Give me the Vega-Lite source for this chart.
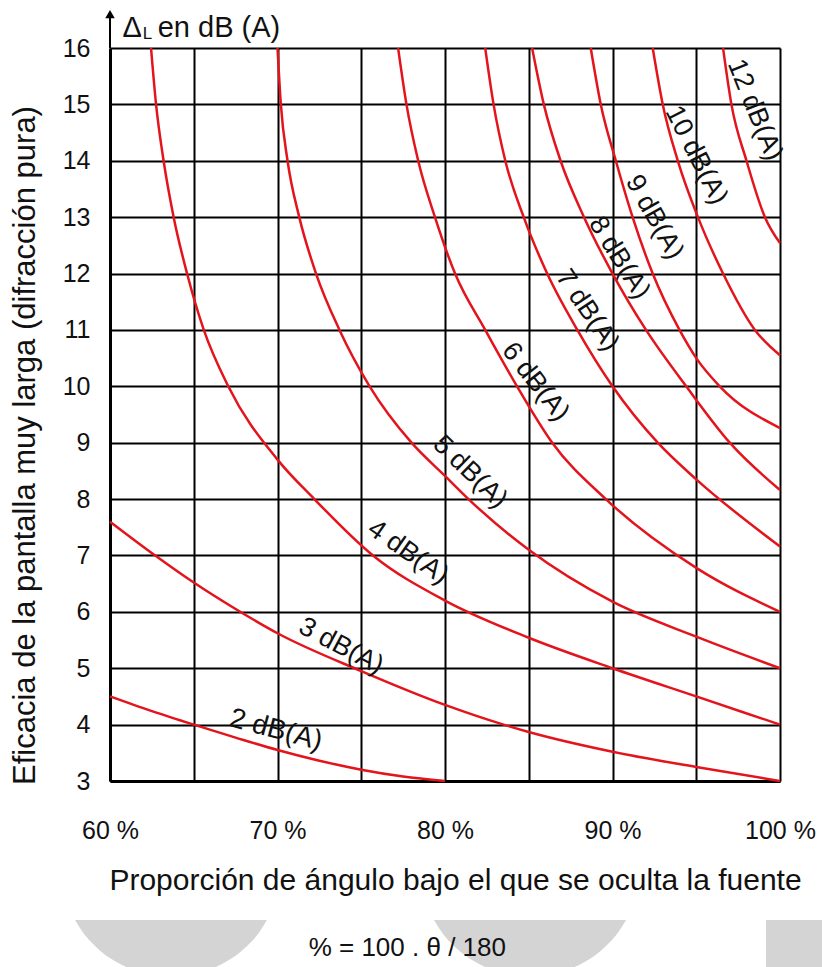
{
  "$schema": "https://vega.github.io/schema/vega-lite/v6.json",
  "width": 670,
  "height": 733,
  "autosize": {"type": "none"},
  "padding": {"left": 110, "top": 48, "right": 42, "bottom": 186},
  "background": "white",
  "config": {"view": {"stroke": null}, "font": "Liberation Sans"},
  "datasets": {
    "curves": [
      {"c": "2", "p": 60, "e": 4.5}, {"c": "2", "p": 62.5, "e": 4.24}, {"c": "2", "p": 65, "e": 4.0}, {"c": "2", "p": 67.5, "e": 3.77}, {"c": "2", "p": 70, "e": 3.55}, {"c": "2", "p": 72.5, "e": 3.36}, {"c": "2", "p": 75, "e": 3.2}, {"c": "2", "p": 77.5, "e": 3.08}, {"c": "2", "p": 80, "e": 3.0},
      {"c": "3", "p": 60, "e": 7.6}, {"c": "3", "p": 62.7, "e": 7.0}, {"c": "3", "p": 65, "e": 6.52}, {"c": "3", "p": 67.5, "e": 6.05}, {"c": "3", "p": 70, "e": 5.62}, {"c": "3", "p": 75, "e": 4.95}, {"c": "3", "p": 80, "e": 4.35}, {"c": "3", "p": 83.5, "e": 4.0}, {"c": "3", "p": 85, "e": 3.87}, {"c": "3", "p": 90, "e": 3.52}, {"c": "3", "p": 95, "e": 3.25}, {"c": "3", "p": 100, "e": 3.0},
      {"c": "4", "p": 62.45, "e": 16}, {"c": "4", "p": 62.75, "e": 15}, {"c": "4", "p": 63.2, "e": 14}, {"c": "4", "p": 63.8, "e": 13}, {"c": "4", "p": 64.6, "e": 12}, {"c": "4", "p": 65.6, "e": 11}, {"c": "4", "p": 67.06, "e": 10}, {"c": "4", "p": 70, "e": 8.7}, {"c": "4", "p": 72.2, "e": 8}, {"c": "4", "p": 75.7, "e": 7}, {"c": "4", "p": 80, "e": 6.2}, {"c": "4", "p": 85, "e": 5.54}, {"c": "4", "p": 90, "e": 5.0}, {"c": "4", "p": 95, "e": 4.5}, {"c": "4", "p": 100, "e": 4.0},
      {"c": "5", "p": 70, "e": 16}, {"c": "5", "p": 70.2, "e": 15}, {"c": "5", "p": 70.6, "e": 14}, {"c": "5", "p": 71.3, "e": 13}, {"c": "5", "p": 72.3, "e": 12}, {"c": "5", "p": 73.7, "e": 11}, {"c": "5", "p": 75.5, "e": 10}, {"c": "5", "p": 78.0, "e": 9}, {"c": "5", "p": 80, "e": 8.41}, {"c": "5", "p": 81.4, "e": 8}, {"c": "5", "p": 85, "e": 7.1}, {"c": "5", "p": 90, "e": 6.18}, {"c": "5", "p": 95, "e": 5.56}, {"c": "5", "p": 100, "e": 5.0},
      {"c": "6", "p": 77.2, "e": 16}, {"c": "6", "p": 77.7, "e": 15}, {"c": "6", "p": 78.4, "e": 14}, {"c": "6", "p": 79.4, "e": 13}, {"c": "6", "p": 80.6, "e": 12}, {"c": "6", "p": 82.4, "e": 11}, {"c": "6", "p": 84.3, "e": 10}, {"c": "6", "p": 86.4, "e": 9}, {"c": "6", "p": 89.6, "e": 8}, {"c": "6", "p": 95, "e": 6.78}, {"c": "6", "p": 100, "e": 6.0},
      {"c": "7", "p": 82.4, "e": 16}, {"c": "7", "p": 82.9, "e": 15}, {"c": "7", "p": 83.6, "e": 14}, {"c": "7", "p": 84.7, "e": 13}, {"c": "7", "p": 86.1, "e": 12}, {"c": "7", "p": 87.9, "e": 11}, {"c": "7", "p": 90, "e": 10}, {"c": "7", "p": 92.7, "e": 9}, {"c": "7", "p": 95, "e": 8.35}, {"c": "7", "p": 100, "e": 7.16},
      {"c": "8", "p": 85.2, "e": 16}, {"c": "8", "p": 85.9, "e": 15}, {"c": "8", "p": 86.9, "e": 14}, {"c": "8", "p": 88.3, "e": 13}, {"c": "8", "p": 90, "e": 12}, {"c": "8", "p": 92, "e": 11}, {"c": "8", "p": 94.4, "e": 10}, {"c": "8", "p": 97, "e": 9}, {"c": "8", "p": 100, "e": 8.16},
      {"c": "9", "p": 88.7, "e": 16}, {"c": "9", "p": 89.3, "e": 15}, {"c": "9", "p": 90.2, "e": 14}, {"c": "9", "p": 91.2, "e": 13}, {"c": "9", "p": 92.4, "e": 12}, {"c": "9", "p": 94.0, "e": 11}, {"c": "9", "p": 95, "e": 10.5}, {"c": "9", "p": 96.4, "e": 10}, {"c": "9", "p": 100, "e": 9.26},
      {"c": "10", "p": 92.4, "e": 16}, {"c": "10", "p": 93.0, "e": 15}, {"c": "10", "p": 93.9, "e": 14}, {"c": "10", "p": 95.1, "e": 13}, {"c": "10", "p": 96.6, "e": 12}, {"c": "10", "p": 98.5, "e": 11}, {"c": "10", "p": 100, "e": 10.55},
      {"c": "12", "p": 96.6, "e": 16}, {"c": "12", "p": 97.1, "e": 15}, {"c": "12", "p": 98.0, "e": 14}, {"c": "12", "p": 99.1, "e": 13}, {"c": "12", "p": 100, "e": 12.54}
    ],
    "labels": [
      {"k": "2", "label": "2 dB(A)", "p": 69.9, "e": 3.9},
      {"k": "3", "label": "3 dB(A)", "p": 73.8, "e": 5.39},
      {"k": "4", "label": "4 dB(A)", "p": 77.8, "e": 7.06},
      {"k": "5", "label": "5 dB(A)", "p": 81.5, "e": 8.48},
      {"k": "6", "label": "6 dB(A)", "p": 85.4, "e": 10.08},
      {"k": "7", "label": "7 dB(A)", "p": 88.5, "e": 11.35},
      {"k": "8", "label": "8 dB(A)", "p": 90.4, "e": 12.28},
      {"k": "9", "label": "9 dB(A)", "p": 92.5, "e": 13.0},
      {"k": "10", "label": "10 dB(A)", "p": 95.0, "e": 14.1},
      {"k": "12", "label": "12 dB(A)", "p": 98.5, "e": 14.9}
    ],
    "shapes": [
      {"s": "a", "p": 57.91, "e": 0.535, "e2": 0.535}, {"s": "a", "p": 58.39, "e": 0.315, "e2": 0.535}, {"s": "a", "p": 58.87, "e": 0.144, "e2": 0.535}, {"s": "a", "p": 59.46, "e": -0.022, "e2": 0.535}, {"s": "a", "p": 60.06, "e": -0.154, "e2": 0.535}, {"s": "a", "p": 60.66, "e": -0.256, "e2": 0.535}, {"s": "a", "p": 61.25, "e": -0.334, "e2": 0.535}, {"s": "a", "p": 63.64, "e": -0.476, "e2": 0.535}, {"s": "a", "p": 66.03, "e": -0.334, "e2": 0.535}, {"s": "a", "p": 66.63, "e": -0.256, "e2": 0.535}, {"s": "a", "p": 67.22, "e": -0.154, "e2": 0.535}, {"s": "a", "p": 67.82, "e": -0.022, "e2": 0.535}, {"s": "a", "p": 68.42, "e": 0.144, "e2": 0.535}, {"s": "a", "p": 68.9, "e": 0.315, "e2": 0.535}, {"s": "a", "p": 69.37, "e": 0.535, "e2": 0.535},
      {"s": "b", "p": 79.34, "e": 0.535, "e2": 0.535}, {"s": "b", "p": 79.82, "e": 0.315, "e2": 0.535}, {"s": "b", "p": 80.3, "e": 0.144, "e2": 0.535}, {"s": "b", "p": 80.9, "e": -0.022, "e2": 0.535}, {"s": "b", "p": 81.49, "e": -0.154, "e2": 0.535}, {"s": "b", "p": 82.09, "e": -0.256, "e2": 0.535}, {"s": "b", "p": 82.69, "e": -0.334, "e2": 0.535}, {"s": "b", "p": 85.07, "e": -0.476, "e2": 0.535}, {"s": "b", "p": 87.46, "e": -0.334, "e2": 0.535}, {"s": "b", "p": 88.06, "e": -0.256, "e2": 0.535}, {"s": "b", "p": 88.66, "e": -0.154, "e2": 0.535}, {"s": "b", "p": 89.25, "e": -0.022, "e2": 0.535}, {"s": "b", "p": 89.85, "e": 0.144, "e2": 0.535}, {"s": "b", "p": 90.33, "e": 0.315, "e2": 0.535}, {"s": "b", "p": 90.81, "e": 0.535, "e2": 0.535}
    ]
  },
  "encoding": {
    "x": {
      "field": "p", "type": "quantitative",
      "scale": {"domain": [60, 100], "nice": false, "zero": false},
      "axis": {
        "values": [60, 65, 70, 75, 80, 85, 90, 95, 100],
        "labelExpr": "datum.value % 10 === 0 ? datum.value + ' %' : ''",
        "grid": true, "gridColor": "#000000", "gridWidth": 2, "gridOpacity": 1,
        "ticks": false, "domainColor": "#000000", "domainWidth": 3,
        "labelFontSize": 25, "labelColor": "#111111", "labelPadding": 37, "labelBaseline": "top",
        "labelFlush": false, "labelOverlap": false, "labelBound": false,
        "title": "Proporción de ángulo bajo el que se oculta la fuente",
        "titleFontSize": 30, "titleFontWeight": "normal", "titleColor": "#111111",
        "titleX": 345, "titleY": 99, "titleBaseline": "middle", "titleAlign": "center"
      }
    },
    "y": {
      "field": "e", "type": "quantitative",
      "scale": {"domain": [3, 16], "nice": false, "zero": false},
      "axis": {
        "values": [3, 4, 5, 6, 7, 8, 9, 10, 11, 12, 13, 14, 15, 16],
        "grid": true, "gridColor": "#000000", "gridWidth": 2, "gridOpacity": 1,
        "ticks": false, "domainColor": "#000000", "domainWidth": 3,
        "labelFontSize": 25, "labelColor": "#111111", "labelPadding": 20,
        "labelFlush": false, "labelOverlap": false, "labelBound": false,
        "title": "Eficacia de la pantalla muy larga (difracción pura)",
        "titleFontSize": 31, "titleFontWeight": "normal", "titleColor": "#111111",
        "titleX": -85, "titleY": 397, "titleAngle": -90, "titleBaseline": "middle", "titleAlign": "center"
      }
    }
  },
  "layer": [
    {
      "data": {"name": "shapes"},
      "mark": {"type": "area", "color": "#d4d4d4", "opacity": 1, "interpolate": "monotone"},
      "encoding": {"y2": {"field": "e2"}, "detail": {"field": "s"}}
    },
    {
      "data": {"values": [{"p": 99.16, "e": 0.535, "p2": 104, "e2": -0.6}]},
      "mark": {"type": "rect", "color": "#d4d4d4"},
      "encoding": {"x2": {"field": "p2"}, "y2": {"field": "e2"}}
    },
    {
      "data": {"name": "curves"},
      "mark": {"type": "line", "color": "#e3141c", "strokeWidth": 2.5, "interpolate": "monotone"},
      "encoding": {"detail": {"field": "c"}}
    },
    {"data": {"name": "labels"}, "transform": [{"filter": "datum.k === '2'"}], "mark": {"type": "text", "angle": 15, "fontSize": 28, "color": "#111111", "align": "center", "baseline": "middle"}, "encoding": {"text": {"field": "label"}}},
    {"data": {"name": "labels"}, "transform": [{"filter": "datum.k === '3'"}], "mark": {"type": "text", "angle": 28, "fontSize": 27, "color": "#111111", "align": "center", "baseline": "middle"}, "encoding": {"text": {"field": "label"}}},
    {"data": {"name": "labels"}, "transform": [{"filter": "datum.k === '4'"}], "mark": {"type": "text", "angle": 35, "fontSize": 27, "color": "#111111", "align": "center", "baseline": "middle"}, "encoding": {"text": {"field": "label"}}},
    {"data": {"name": "labels"}, "transform": [{"filter": "datum.k === '5'"}], "mark": {"type": "text", "angle": 44, "fontSize": 27, "color": "#111111", "align": "center", "baseline": "middle"}, "encoding": {"text": {"field": "label"}}},
    {"data": {"name": "labels"}, "transform": [{"filter": "datum.k === '6'"}], "mark": {"type": "text", "angle": 52, "fontSize": 27, "color": "#111111", "align": "center", "baseline": "middle"}, "encoding": {"text": {"field": "label"}}},
    {"data": {"name": "labels"}, "transform": [{"filter": "datum.k === '7'"}], "mark": {"type": "text", "angle": 56, "fontSize": 27, "color": "#111111", "align": "center", "baseline": "middle"}, "encoding": {"text": {"field": "label"}}},
    {"data": {"name": "labels"}, "transform": [{"filter": "datum.k === '8'"}], "mark": {"type": "text", "angle": 58, "fontSize": 27, "color": "#111111", "align": "center", "baseline": "middle"}, "encoding": {"text": {"field": "label"}}},
    {"data": {"name": "labels"}, "transform": [{"filter": "datum.k === '9'"}], "mark": {"type": "text", "angle": 61, "fontSize": 27, "color": "#111111", "align": "center", "baseline": "middle"}, "encoding": {"text": {"field": "label"}}},
    {"data": {"name": "labels"}, "transform": [{"filter": "datum.k === '10'"}], "mark": {"type": "text", "angle": 63, "fontSize": 27, "color": "#111111", "align": "center", "baseline": "middle"}, "encoding": {"text": {"field": "label"}}},
    {"data": {"name": "labels"}, "transform": [{"filter": "datum.k === '12'"}], "mark": {"type": "text", "angle": 68, "fontSize": 27, "color": "#111111", "align": "center", "baseline": "middle"}, "encoding": {"text": {"field": "label"}}},
    {
      "data": {"values": [{"p": 60, "e": 16, "e2": 16.55}]},
      "mark": {"type": "rule", "color": "#000000", "strokeWidth": 2},
      "encoding": {"y2": {"field": "e2"}}
    },
    {
      "data": {"values": [{"p": 60, "e": 16.6}]},
      "mark": {"type": "point", "shape": "triangle-up", "filled": true, "size": 90, "color": "#000000", "opacity": 1}
    },
    {
      "data": {"values": [{"p": 60.75, "e": 16.195, "t": "Δ"}]},
      "mark": {"type": "text", "fontSize": 29, "color": "#111111", "align": "left", "baseline": "alphabetic"},
      "encoding": {"text": {"field": "t"}}
    },
    {
      "data": {"values": [{"p": 61.95, "e": 16.16, "t": "L"}]},
      "mark": {"type": "text", "fontSize": 17, "color": "#111111", "align": "left", "baseline": "alphabetic"},
      "encoding": {"text": {"field": "t"}}
    },
    {
      "data": {"values": [{"p": 62.85, "e": 16.195, "t": "en dB (A)"}]},
      "mark": {"type": "text", "fontSize": 29, "color": "#111111", "align": "left", "baseline": "alphabetic"},
      "encoding": {"text": {"field": "t"}}
    },
    {
      "data": {"values": [{"p": 77.75, "e": 0.04, "t": "% = 100 . θ / 180"}]},
      "mark": {"type": "text", "fontSize": 26, "color": "#111111", "align": "center", "baseline": "middle"},
      "encoding": {"text": {"field": "t"}}
    }
  ]
}
